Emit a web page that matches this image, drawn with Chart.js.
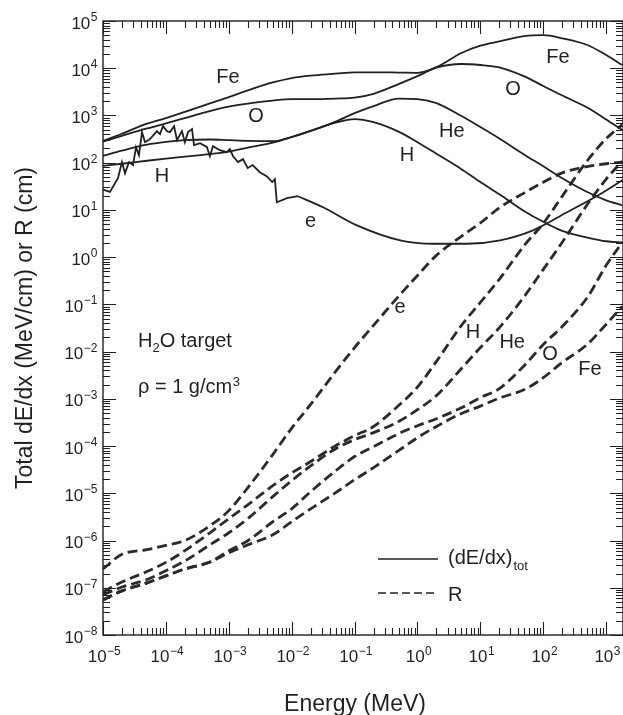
<!DOCTYPE html>
<html>
<head>
<meta charset="utf-8">
<title>Total dE/dx and range in water</title>
<script src="https://cdn.jsdelivr.net/npm/chart.js@4.4.1/dist/chart.umd.min.js"></script>
<style>
  html, body { margin: 0; padding: 0; background: #fff; }
  #wrap { width: 623px; height: 715px; }
</style>
</head>
<body>
<div id="wrap"><canvas id="stoppingChart" width="623" height="715"></canvas></div>
<script>
// ----------------------------------------------------
// Data
// ----------------------------------------------------
const energy = [1e-5, 2e-5, 5e-5, 1e-4, 2e-4, 5e-4, 1e-3, 2e-3, 5e-3, 1e-2, 2e-2, 5e-2,
    0.1, 0.2, 0.5, 1, 2, 5, 10, 20, 50, 100, 200, 500, 1000, 1800];

// total dE/dx (MeV/cm)
const feStopping = [290, 410, 670, 880, 1190, 1800, 2450, 3400, 5000, 6200, 7000, 7650,
    8200, 8200, 8100, 8000, 10600, 21000, 30000, 37000, 48000, 50000, 43000, 31000, 19000, 11700];
const oStopping = [280, 370, 530, 680, 880, 1240, 1540, 1790, 2070, 2220, 2220, 2280,
    2380, 2870, 4620, 6800, 10300, 12300, 11700, 10400, 6700, 4200, 2640, 1470, 820, 490];
const heStopping = [140, 180, 240, 275, 300, 310, 300, 290, 285, 350, 470, 740,
    1120, 1580, 2280, 2220, 1830, 970, 567, 324, 148, 84, 47, 24, 16, 12.6];
const hStopping = [86, 95, 110, 122, 134, 152, 171, 208, 266, 348, 470, 706,
    837, 723, 455, 272, 155, 73, 39, 21.5, 9.4, 5.6, 3.6, 2.6, 2.17, 2.06];

// electron dE/dx has its own (noisy) energy grid
const eStopEnergy = [1.0e-5, 1.29e-5, 1.73e-5, 2.0e-5, 2.24e-5, 2.59e-5, 3.0e-5, 3.35e-5, 3.73e-5,
    4.17e-5, 4.65e-5, 5.59e-5, 7.2e-5, 8.05e-5, 9.0e-5, 1.04e-4, 1.16e-4, 1.35e-4, 1.5e-4, 1.8e-4,
    2.0e-4, 2.25e-4, 2.6e-4, 2.8e-4, 3.5e-4, 4.5e-4, 5.0e-4, 5.6e-4, 7.2e-4, 9.3e-4, 1.04e-3,
    1.17e-3, 1.4e-3, 1.68e-3, 2.0e-3, 2.4e-3, 3.1e-3, 4.0e-3, 4.9e-3, 5.4e-3, 5.8e-3, 8.4e-3,
    1.26e-2, 3.15e-2, 0.109, 0.53, 1.76, 6.1, 20.5, 68.5, 238, 796, 1800];
const eStopping = [27, 24, 47, 103, 60, 103, 89, 213, 144,
    444, 272, 316, 466, 403, 594, 466, 444, 594, 301, 466,
    272, 444, 514, 235, 259, 213, 137, 224, 184, 167, 194,
    137, 103, 119, 77, 89, 63, 52, 39, 45, 14.5, 17.7,
    19.5, 11.4, 4.7, 2.27, 1.92, 1.92, 2.27, 3.7, 8.9, 21.5, 42.6];
const eSmoothFrom = 1.26e-2; // above this energy the electron curve is smooth

// range R (cm)
const eRange = [2.5e-7, 5.1e-7, 6.4e-7, 7.9e-7, 1.0e-6, 2.05e-6, 4.3e-6, 1.31e-5, 6.6e-5, 2.4e-4, 7.6e-4, 3.8e-3,
    1.22e-2, 3.6e-2, 0.148, 0.41, 1.09, 2.77, 5.3, 11.1, 23, 38.6, 61, 83, 95, 103];
const hRange = [8.2e-8, 1.33e-7, 2.2e-7, 3.45e-7, 6.1e-7, 1.46e-6, 2.9e-6, 5.7e-6, 1.45e-5, 2.7e-5, 4.7e-5, 1.02e-4,
    1.66e-4, 2.6e-4, 7.2e-4, 1.78e-3, 6.2e-3, 3.6e-2, 0.11, 0.34, 1.78, 5.2, 19.5, 110, 323, 640];
const heRange = [7.1e-8, 1.04e-7, 1.5e-7, 2.3e-7, 3.7e-7, 8.1e-7, 1.46e-6, 2.9e-6, 8.5e-6, 1.85e-5, 3.8e-5, 8.8e-5,
    1.37e-4, 1.93e-4, 3.3e-4, 5.9e-4, 1.17e-3, 4.4e-3, 1.22e-2, 3.2e-2, 0.148, 0.55, 2.06, 13, 45, 108];
const oRange = [5.5e-8, 8.6e-8, 1.27e-7, 1.79e-7, 2.5e-7, 3.5e-7, 6.1e-7, 9.9e-7, 2.5e-6, 4.7e-6, 1.08e-5, 3.0e-5,
    6.0e-5, 9.7e-5, 1.83e-4, 2.7e-4, 3.8e-4, 6.5e-4, 1.06e-3, 1.65e-3, 5.1e-3, 1.42e-2, 3.4e-2, 0.14, 0.67, 2.06];
const feRange = [5.5e-8, 8.6e-8, 1.27e-7, 1.79e-7, 2.5e-7, 3.5e-7, 5.5e-7, 8.1e-7, 1.32e-6, 2.5e-6, 4.7e-6, 1.03e-5,
    1.94e-5, 3.5e-5, 8.0e-5, 1.51e-4, 2.6e-4, 4.9e-4, 7.0e-4, 1.04e-3, 1.57e-3, 2.8e-3, 5.9e-3, 1.42e-2, 3.8e-2, 9.1e-2];

// axis decades (tick labels are 10^k)
const xDecades = [-5, -4, -3, -2, -1, 0, 1, 2, 3];
const yDecades = [-8, -7, -6, -5, -4, -3, -2, -1, 0, 1, 2, 3, 4, 5];

// curve labels, anchored in data units [energy, value]
const stoppingLabels = [['Fe', 9.7e-4, 6.5e3], ['O', 2.7e-3, 970], ['H', 8.7e-5, 52], ['e', 2.0e-2, 5.8],
    ['He', 3.5, 466], ['H', 0.68, 144], ['Fe', 171, 1.73e4], ['O', 33, 3.6e3]];
const rangeLabels = [['e', 0.53, 0.086], ['H', 7.6, 0.025], ['He', 32, 0.0156], ['O', 128, 8.7e-3], ['Fe', 552, 4.2e-3]];

document.addEventListener('DOMContentLoaded', () => {

    const INK = '#231f20';
    const FONT = '"Liberation Sans", Arial, Helvetica, sans-serif';

    const toPoints = (xs, ys) => xs.map((x, i) => ({ x: x, y: ys[i] }));

    const solidLine = (label, points, smooth) => ({
        label: label,
        data: points,
        borderColor: INK,
        borderWidth: 1.8,
        pointRadius: 0,
        fill: false,
        tension: 0,
        cubicInterpolationMode: smooth ? 'monotone' : 'default'
    });

    const dashedLine = (label, values) => ({
        label: label,
        data: toPoints(energy, values),
        borderColor: '#2b2b2b',
        borderWidth: 2.8,
        borderDash: [10, 5],
        pointRadius: 0,
        fill: false,
        cubicInterpolationMode: 'monotone'
    });

    const ePoints = toPoints(eStopEnergy, eStopping);

    // ----------------------------------------------------
    // Frame, ticks, labels, legend (drawn by hand, paper style)
    // ----------------------------------------------------
    function expText(k) {
        return k < 0 ? '\u2212' + (-k) : String(k);
    }

    const paperPlugin = {
        id: 'paperAxes',
        beforeDraw(chart) {
            const ctx = chart.ctx;
            ctx.save();
            ctx.fillStyle = '#fff';
            ctx.fillRect(0, 0, chart.width, chart.height);
            ctx.restore();
        },
        afterDatasetsDraw(chart) {
            const ctx = chart.ctx;
            const xs = chart.scales.x;
            const ys = chart.scales.y;
            const { left, right, top, bottom } = chart.chartArea;

            ctx.save();
            ctx.strokeStyle = INK;
            ctx.fillStyle = INK;

            // frame
            ctx.lineWidth = 1.4;
            ctx.strokeRect(left, top, right - left, bottom - top);

            // ticks on all four sides, pointing inwards
            ctx.lineWidth = 1.1;
            const MAJOR = 13, MINOR = 7;
            ctx.beginPath();
            xDecades.forEach(k => {
                for (let m = 1; m <= 9; m++) {
                    const v = m * Math.pow(10, k);
                    if (v > xs.max * 1.0001) continue;
                    const px = Math.round(xs.getPixelForValue(v)) + 0.5;
                    const len = m === 1 ? MAJOR : MINOR;
                    ctx.moveTo(px, bottom); ctx.lineTo(px, bottom - len);
                    ctx.moveTo(px, top); ctx.lineTo(px, top + len);
                }
            });
            yDecades.forEach(k => {
                for (let m = 1; m <= 9; m++) {
                    const v = m * Math.pow(10, k);
                    if (v > ys.max * 1.0001) continue;
                    const py = Math.round(ys.getPixelForValue(v)) + 0.5;
                    const len = m === 1 ? MAJOR : MINOR;
                    ctx.moveTo(left, py); ctx.lineTo(left + len, py);
                    ctx.moveTo(right, py); ctx.lineTo(right - len, py);
                }
            });
            ctx.stroke();

            // tick labels 10^k
            ctx.textBaseline = 'alphabetic';
            ctx.textAlign = 'left';
            const baseFont = '17px ' + FONT;
            const supFont = '12px ' + FONT;
            const widths = (k) => {
                ctx.font = baseFont;
                const w1 = ctx.measureText('10').width;
                ctx.font = supFont;
                const w2 = ctx.measureText(expText(k)).width;
                return [w1, w2];
            };
            const drawPow = (k, x0, baseY) => {
                const [w1] = widths(k);
                ctx.font = baseFont;
                ctx.fillText('10', x0, baseY);
                ctx.font = supFont;
                ctx.fillText(expText(k), x0 + w1 + 0.5, baseY - 7.5);
            };
            xDecades.forEach(k => {
                const px = xs.getPixelForValue(Math.pow(10, k));
                const [w1, w2] = widths(k);
                drawPow(k, px - (w1 + w2) / 2 + 1, bottom + 27);
            });
            yDecades.forEach(k => {
                const py = ys.getPixelForValue(Math.pow(10, k));
                const [w1, w2] = widths(k);
                drawPow(k, left - 6 - (w1 + w2), py + 7.5);
            });

            // axis titles
            ctx.font = '23px ' + FONT;
            ctx.textAlign = 'center';
            ctx.fillText('Energy (MeV)', 355, 711);
            ctx.save();
            ctx.translate(32, 328);
            ctx.rotate(-Math.PI / 2);
            ctx.fillText('Total dE/dx (MeV/cm) or R (cm)', 0, 0);
            ctx.restore();

            // curve labels
            ctx.font = '20px ' + FONT;
            ctx.textBaseline = 'middle';
            stoppingLabels.concat(rangeLabels).forEach(([text, e, v]) => {
                ctx.fillText(text, xs.getPixelForValue(e), ys.getPixelForValue(v));
            });

            // target annotation
            ctx.textAlign = 'left';
            ctx.textBaseline = 'alphabetic';
            let x = 138;
            ctx.font = '20px ' + FONT;
            ctx.fillText('H', x, 347);
            x += ctx.measureText('H').width;
            ctx.font = '13px ' + FONT;
            ctx.fillText('2', x, 352);
            x += ctx.measureText('2').width;
            ctx.font = '20px ' + FONT;
            ctx.fillText('O target', x, 347);

            x = 138;
            ctx.fillText('\u03c1 = 1 g/cm', x, 393);
            x += ctx.measureText('\u03c1 = 1 g/cm').width;
            ctx.font = '13px ' + FONT;
            ctx.fillText('3', x + 0.5, 386);

            // legend
            ctx.lineWidth = 1.6;
            ctx.beginPath();
            ctx.moveTo(378, 559); ctx.lineTo(438, 559);
            ctx.stroke();
            ctx.setLineDash([8, 4]);
            ctx.beginPath();
            ctx.moveTo(378, 593); ctx.lineTo(438, 593);
            ctx.stroke();
            ctx.setLineDash([]);

            ctx.font = '20px ' + FONT;
            ctx.fillText('(dE/dx)', 448, 564);
            const wLeg = ctx.measureText('(dE/dx)').width;
            ctx.font = '13px ' + FONT;
            ctx.fillText('tot', 448 + wLeg + 1, 570);
            ctx.font = '20px ' + FONT;
            ctx.fillText('R', 448, 601);

            ctx.restore();
        }
    };

    // ----------------------------------------------------
    // Chart.js
    // ----------------------------------------------------
    const ctx = document.getElementById('stoppingChart');

    new Chart(ctx, {
        type: 'line',
        data: {
            datasets: [
                solidLine('Fe dE/dx', toPoints(energy, feStopping), true),
                solidLine('O dE/dx', toPoints(energy, oStopping), true),
                solidLine('He dE/dx', toPoints(energy, heStopping), true),
                solidLine('H dE/dx', toPoints(energy, hStopping), true),
                solidLine('e dE/dx', ePoints.filter(p => p.x <= eSmoothFrom), false),
                solidLine('e dE/dx (smooth)', ePoints.filter(p => p.x >= eSmoothFrom), true),
                dashedLine('e R', eRange),
                dashedLine('H R', hRange),
                dashedLine('He R', heRange),
                dashedLine('O R', oRange),
                dashedLine('Fe R', feRange)
            ]
        },
        options: {
            responsive: false,
            animation: false,
            events: [],
            layout: { padding: { left: 103, top: 21, right: 0, bottom: 80 } },
            plugins: {
                legend: { display: false },
                tooltip: { enabled: false }
            },
            scales: {
                x: { type: 'logarithmic', min: 1e-5, max: 1850, display: false },
                y: { type: 'logarithmic', min: 1e-8, max: 1e5, display: false }
            }
        },
        plugins: [paperPlugin]
    });
});
</script>
</body>
</html>
